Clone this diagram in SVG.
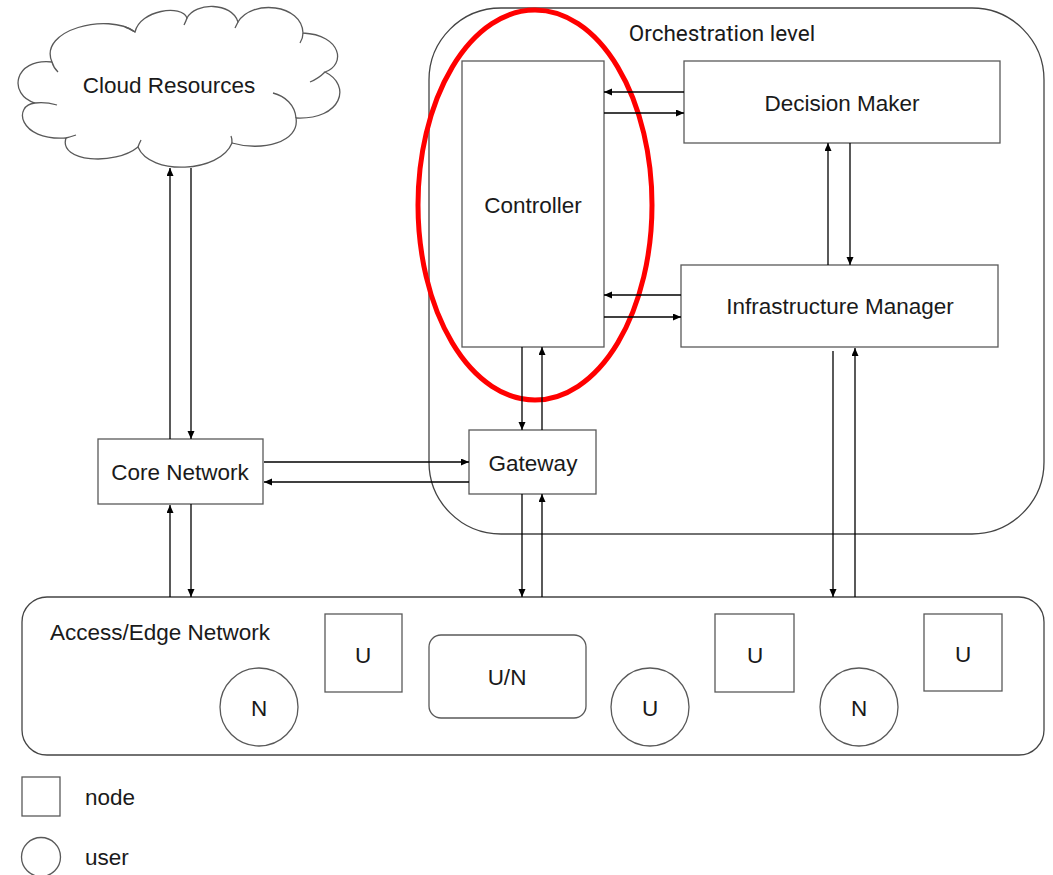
<svg xmlns="http://www.w3.org/2000/svg" width="1053" height="875" viewBox="0 0 1053 875">
<style>
.box{fill:#fff;stroke:#595959;stroke-width:1.3}
.cont{fill:none;stroke:#444;stroke-width:1.3}
.lbl{font-family:"Liberation Sans",Arial,sans-serif;font-size:22.5px;fill:#1a1a1a;text-anchor:middle;dominant-baseline:central}
.conn line{stroke:#000;stroke-width:1.3;marker-end:url(#arr)}
</style>
<defs>
<marker id="arr" markerUnits="userSpaceOnUse" markerWidth="9" markerHeight="8" refX="8" refY="3.5" orient="auto">
<path d="M0,0 L8,3.5 L0,7 z" fill="#000"/>
</marker>
</defs>
<rect width="1053" height="875" fill="#fff"/>

<g id="orchestration">
<rect class="cont" x="429" y="8" width="615" height="526" rx="72"/>
<text x="722" y="33" class="lbl" style="font-family:Roboto,'Liberation Sans',sans-serif">Orchestration level</text>
</g>

<g id="access">
<rect class="cont" x="22" y="597" width="1022" height="158" rx="25"/>
<text x="50" y="632" class="lbl" style="text-anchor:start">Access/Edge Network</text>
</g>

<g id="cloud">
<path class="box" d="M52 62 C38 30,108 12,135 32 C140 10,182 4,187 18 C195 2,232 2,238 22 C252 -1,302 4,303 33 C342 35,346 65,325 72 C352 85,342 120,296 118 C300 142,262 152,232 143 C220 173,150 176,138 147 C115 166,58 162,66 138 C18 141,13 105,35 103 C8 95,13 58,52 62 Z"/>
<path fill="none" stroke="#595959" stroke-width="1.3" d="M52 62 C53 66,55 69,58 72 M125 27 C129 28,132 30,135 32 M187 18 C186 21,185 23,184 25 M238 22 C237 24,236 26,235 28 M303 33 C303 37,302 40,300 43 M325 72 C320 77,315 80,310 82 M296 118 C295 105,285 96,273 93 M232 143 C232 140,232 138,231 136 M138 147 C139 144,140 142,141 140 M66 138 C70 137,73 136,76 135 M35 103 C42 102,50 103,57 105"/>
<text x="169" y="85" class="lbl">Cloud Resources</text>
</g>

<g id="controller">
<rect class="box" x="462" y="61" width="142" height="286"/>
<text x="533" y="205" class="lbl">Controller</text>
</g>

<g id="decision-maker">
<rect class="box" x="684" y="61" width="316" height="82"/>
<text x="842" y="103" class="lbl">Decision Maker</text>
</g>

<g id="infrastructure-manager">
<rect class="box" x="681" y="265" width="317" height="82"/>
<text x="840" y="306" class="lbl">Infrastructure Manager</text>
</g>

<g id="gateway">
<rect class="box" x="469" y="430" width="127" height="64"/>
<text x="533" y="463" class="lbl">Gateway</text>
</g>

<g id="core-network">
<rect class="box" x="98" y="439" width="165" height="65"/>
<text x="180" y="472" class="lbl">Core Network</text>
</g>

<g id="u-square-1">
<rect class="box" x="325" y="614" width="77" height="78"/>
<text x="363" y="655" class="lbl">U</text>
</g>
<g id="un-node">
<rect class="box" x="429" y="635" width="157" height="83" rx="12"/>
<text x="507" y="677" class="lbl">U/N</text>
</g>
<g id="n-circle-1">
<circle class="box" cx="259" cy="707" r="39"/>
<text x="259" y="708" class="lbl">N</text>
</g>
<g id="u-circle">
<circle class="box" cx="650" cy="707" r="39"/>
<text x="650" y="708" class="lbl">U</text>
</g>
<g id="u-square-2">
<rect class="box" x="715" y="614" width="79" height="78"/>
<text x="755" y="655" class="lbl">U</text>
</g>
<g id="n-circle-2">
<circle class="box" cx="859" cy="707" r="39"/>
<text x="859" y="708" class="lbl">N</text>
</g>
<g id="u-square-3">
<rect class="box" x="924" y="614" width="78" height="77"/>
<text x="963" y="654" class="lbl">U</text>
</g>

<g id="legend">
<rect class="box" x="22" y="777" width="38" height="39"/>
<text x="85" y="797" class="lbl" style="text-anchor:start">node</text>
<circle class="box" cx="41" cy="857" r="19.5"/>
<text x="85" y="857" class="lbl" style="text-anchor:start">user</text>
</g>

<g id="highlight">
<ellipse cx="535" cy="205" rx="117" ry="195" fill="none" stroke="#ff0000" stroke-width="5"/>
</g>

<g id="connectors" class="conn">
<line x1="170" y1="439" x2="170" y2="168"/>
<line x1="191" y1="168" x2="191" y2="439"/>
<line x1="170" y1="597" x2="170" y2="505"/>
<line x1="191" y1="504" x2="191" y2="597"/>
<line x1="264" y1="462" x2="469" y2="462"/>
<line x1="469" y1="482" x2="264" y2="482"/>
<line x1="522" y1="347" x2="522" y2="430"/>
<line x1="542" y1="430" x2="542" y2="347"/>
<line x1="522" y1="494" x2="522" y2="597"/>
<line x1="542" y1="597" x2="542" y2="494"/>
<line x1="684" y1="92" x2="604" y2="92"/>
<line x1="604" y1="113" x2="684" y2="113"/>
<line x1="681" y1="295" x2="604" y2="295"/>
<line x1="604" y1="317" x2="681" y2="317"/>
<line x1="828" y1="265" x2="828" y2="143"/>
<line x1="850" y1="143" x2="850" y2="265"/>
<line x1="833" y1="351" x2="833" y2="597"/>
<line x1="855" y1="597" x2="855" y2="348"/>
</g>
</svg>
